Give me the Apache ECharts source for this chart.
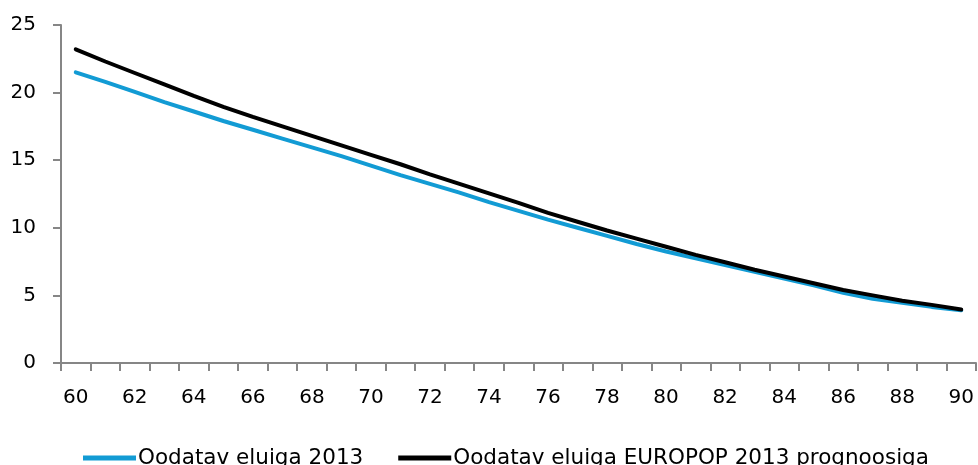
<!DOCTYPE html>
<html>
<head>
<meta charset="utf-8">
<script src="https://cdn.jsdelivr.net/npm/echarts@6/dist/echarts.min.js"></script>
<style>
  html, body { margin: 0; padding: 0; background: #fff; }
  #chart { width: 978px; height: 465px; }
</style>
</head>
<body>
<div id="chart"></div>
<script>
// ages 60..90
const ages = [];
for (let a = 60; a <= 90; a++) ages.push(String(a));

const seriesNames = ["Oodatav eluiga 2013", "Oodatav eluiga EUROPOP 2013 prognoosiga"];

const eluiga2013 = [
  21.5, 20.8, 20.05, 19.3, 18.6, 17.9, 17.25, 16.6, 15.95, 15.3,
  14.6, 13.9, 13.25, 12.6, 11.9, 11.25, 10.6, 10.0, 9.4, 8.8,
  8.25, 7.75, 7.25, 6.75, 6.25, 5.75, 5.2, 4.75, 4.45, 4.15, 3.9
];

const europop2013 = [
  23.2, 22.3, 21.45, 20.6, 19.75, 18.95, 18.2, 17.5, 16.8, 16.1,
  15.4, 14.7, 13.95, 13.25, 12.55, 11.85, 11.1, 10.45, 9.8, 9.2,
  8.6, 8.0, 7.45, 6.9, 6.4, 5.9, 5.4, 5.0, 4.6, 4.3, 3.95
];

const chart = echarts.init(document.getElementById("chart"));
const axisColor = "#868686";
const font = "DejaVu Sans";

chart.setOption({
  animation: false,
  grid: { left: 61, right: 2, top: 25, bottom: 102, containLabel: false, outerBoundsMode: "none" },
  legend: {
    data: seriesNames,
    bottom: -9,
    left: 78,
    icon: "rect",
    itemWidth: 53,
    itemHeight: 5,
    itemGap: 35,
    textStyle: { fontFamily: font, fontSize: 21.5, color: "#000", padding: [0, 0, 0, -3] }
  },
  xAxis: {
    type: "category",
    data: ages,
    boundaryGap: true,
    axisLine: { show: true, lineStyle: { color: axisColor, width: 2 } },
    axisTick: { show: true, interval: 0, length: 8, lineStyle: { color: axisColor, width: 2 } },
    axisLabel: { interval: 1, margin: 25, fontFamily: font, fontSize: 20, color: "#000" },
    splitLine: { show: false }
  },
  yAxis: {
    type: "value",
    min: 0,
    max: 25,
    interval: 5,
    axisLine: { show: true, lineStyle: { color: axisColor, width: 2 } },
    axisTick: { show: true, length: 8, lineStyle: { color: axisColor, width: 2 } },
    axisLabel: { margin: 25, fontFamily: font, fontSize: 20, color: "#000" },
    splitLine: { show: false }
  },
  series: [
    {
      name: seriesNames[0],
      type: "line",
      data: eluiga2013,
      symbol: "none",
      itemStyle: { color: "#129bd4" },
      lineStyle: { color: "#129bd4", width: 4, cap: "round" }
    },
    {
      name: seriesNames[1],
      type: "line",
      data: europop2013,
      symbol: "none",
      itemStyle: { color: "#000" },
      lineStyle: { color: "#000", width: 4, cap: "round" }
    }
  ]
});
</script>
</body>
</html>
